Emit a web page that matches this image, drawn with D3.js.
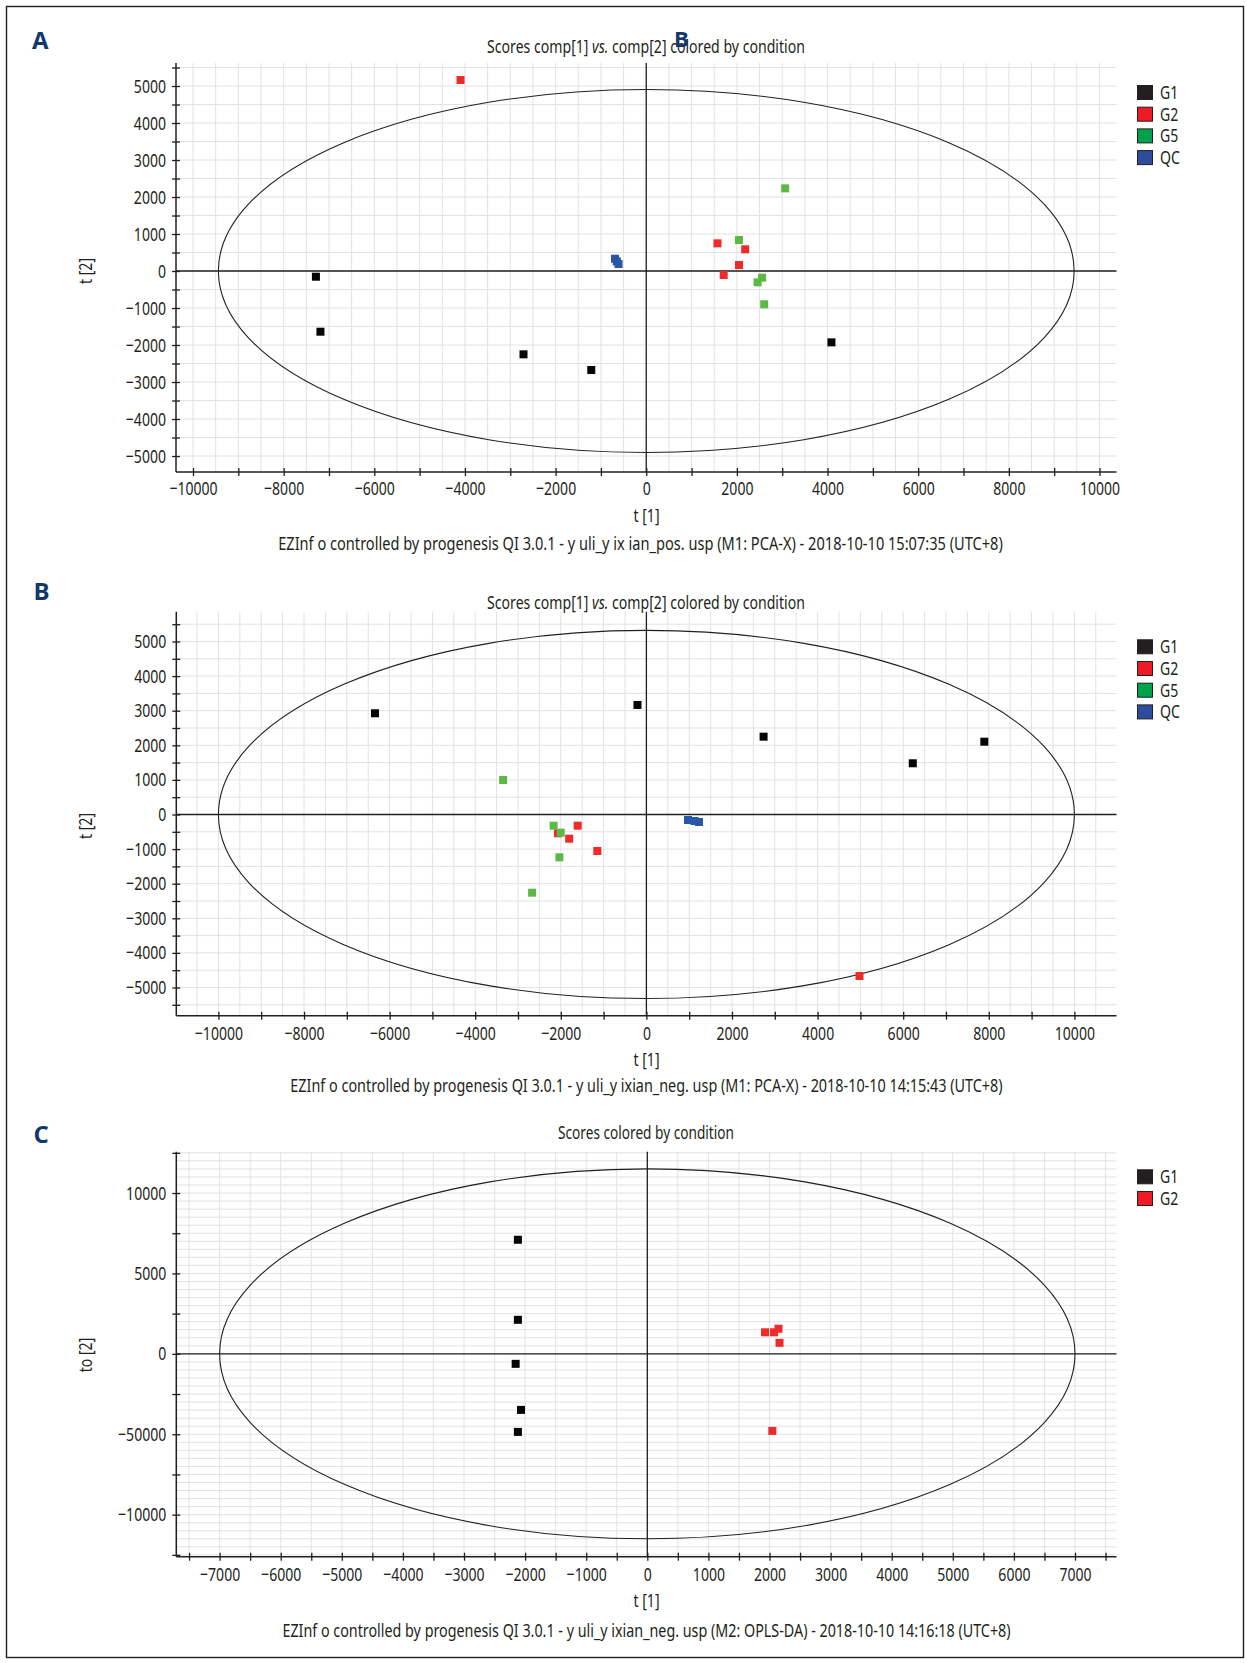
<!DOCTYPE html>
<html><head><meta charset="utf-8">
<script src="https://cdn.jsdelivr.net/npm/d3@7"></script>
<style>body{margin:0;background:#fff}</style>
</head><body><svg id="c" width="1247" height="1663"></svg>
<script>
// ---------------- DATA ----------------
const groupsABC = ["G1", "G2", "G5", "QC"];
const groupsC = ["G1", "G2"];

// Panel A (PCA-X, positive mode)  [t1, t2]
const aG1 = [[-7288, -154], [-7188, -1640], [-2708, -2252], [-1213, -2676], [4086, -1928]];
const aG2 = [[-4097, 5162], [1572, 748], [2183, 586], [2046, 162], [1709, -108]];
const aG5 = [[3065, 2234], [2046, 838], [2556, -181], [2456, -306], [2602, -900]];
const aQC = [[-690, 332], [-650, 260], [-611, 189]];
const aEllipse = [9440, 4905];

// Panel B (PCA-X, negative mode)
const bG1 = [[-6341, 2925], [-208, 3165], [2738, 2249], [6224, 1480], [7895, 2104]];
const bG2 = [[-2065, -543], [-1605, -324], [-1804, -699], [-1147, -1055], [4979, -4668]];
const bG5 = [[-3348, 997], [-2168, -324], [-2002, -526], [-2033, -1237], [-2670, -2260]];
const bQC = [[972, -159], [1124, -188], [1229, -217]];
const bEllipse = [10000, 5320];

// Panel C (OPLS-DA)  [t1, to2]
const cG1 = [[-2118, 7094], [-2118, 2116], [-2155, -622], [-2067, -3485], [-2118, -4854]];
const cG2 = [[1926, 1340], [2074, 1340], [2147, 1560], [2164, 685], [2046, -4791]];
const cEllipse = [7000, 11500];

// Tick labels
const xLabelsAB = [-10000, -8000, -6000, -4000, -2000, 0, 2000, 4000, 6000, 8000, 10000];
const yLabelsAB = [-5000, -4000, -3000, -2000, -1000, 0, 1000, 2000, 3000, 4000, 5000];
const xLabelsC = [-7000, -6000, -5000, -4000, -3000, -2000, -1000, 0, 1000, 2000, 3000, 4000, 5000, 6000, 7000];
const yLabelsC = [-10000, -5000, 0, 5000, 10000];
const yLabelTextC = ["\u221210000", "\u221250000", "0", "5000", "10000"];

const titles = [
  [{t: "Scores comp[1] "}, {t: "vs.", i: true}, {t: " comp[2] colored by condition"}],
  [{t: "Scores comp[1] "}, {t: "vs.", i: true}, {t: " comp[2] colored by condition"}],
  [{t: "Scores colored by condition"}]
];
const footers = [
  "EZInf o controlled by progenesis QI 3.0.1 - y uli_y ix ian_pos. usp (M1: PCA-X) - 2018-10-10 15:07:35 (UTC+8)",
  "EZInf o controlled by progenesis QI 3.0.1 - y uli_y ixian_neg. usp (M1: PCA-X) - 2018-10-10 14:15:43 (UTC+8)",
  "EZInf o controlled by progenesis QI 3.0.1 - y uli_y ixian_neg. usp (M2: OPLS-DA) - 2018-10-10 14:16:18 (UTC+8)"
];
const yTitles = ["t [2]", "t [2]", "to [2]"];
const xTitle = "t [1]";

// ---------------- STYLE ----------------
const INK = "#231f20";
const NAVY = "#12386b";
const FONT = "'Noto Sans', 'Open Sans', sans-serif";
const pointColor = {G1: "#050505", G2: "#ee2a2a", G5: "#5cb946", QC: "#2a56a8"};
const legendColor = {G1: "#231f20", G2: "#ed1c24", G5: "#00a14b", QC: "#2e4c9c"};
const COND = 0.74;

const svg = d3.select("#c");
svg.append("rect").attr("width", 1247).attr("height", 1663).attr("fill", "#fff");
svg.append("rect").attr("x", 6.5).attr("y", 6.5).attr("width", 1237).attr("height", 1651)
  .attr("fill", "none").attr("stroke", INK).attr("stroke-width", 1.4);

function txt(parent, x, y, opt) {
  const gg = parent.append("g");
  const t = gg.append("text").attr("font-family", opt.font || FONT).attr("font-size", opt.size || 19)
    .attr("fill", opt.fill || INK).attr("text-anchor", opt.anchor || "start");
  if (opt.weight) t.attr("font-weight", opt.weight);
  if (opt.parts) opt.parts.forEach(p => t.append("tspan").attr("font-style", p.i ? "italic" : null).text(p.t));
  else t.text(opt.s);
  let f = opt.f || COND;
  if (opt.width) f = opt.width / t.node().getBBox().width;
  gg.attr("transform", `translate(${x},${y})${opt.rot ? ` rotate(${opt.rot})` : ""} scale(${f},1)`);
  return t;
}
const fmt = v => v < 0 ? "\u2212" + Math.abs(v) : String(v);

const panels = [
  {label: "A", lab: [32, 49], x0: 176, x1: 1116.5, xDom: [-10375, 10375], yTop: 63, yBot: 472, yDom: [-5432, 5622],
   xMinor: 1000, yMinor: 500, xLab: xLabelsAB, yLab: yLabelsAB, yLabText: yLabelsAB.map(fmt), xPad: 6,
   series: [["G1", aG1], ["G2", aG2], ["G5", aG5], ["QC", aQC]], ell: aEllipse, legend: groupsABC,
   titleY: 53, titleW: 318, footY: 550, footX: 640.5, footW: 725, xtY: 521.5, ytY: 271, legTop: 85},
  {label: "B", lab: [33.5, 600], x0: 176.3, x1: 1116.5, xDom: [-10984, 10984], yTop: 611.7, yBot: 1015.7, yDom: [-5815, 5861],
   xMinor: 1000, yMinor: 500, xLab: xLabelsAB, yLab: yLabelsAB, yLabText: yLabelsAB.map(fmt), xPad: 7,
   series: [["G1", bG1], ["G2", bG2], ["G5", bG5], ["QC", bQC]], ell: bEllipse, legend: groupsABC,
   titleY: 609, titleW: 318, footY: 1092, footX: 646.5, footW: 713, xtY: 1066, ytY: 826, legTop: 639.3},
  {label: "C", lab: [33.5, 1143], x0: 176.3, x1: 1116.5, xDom: [-7709, 7679], yTop: 1151.7, yBot: 1556.7, yDom: [-12614, 12570],
   xMinor: 500, yMinor: 2500, xLab: xLabelsC, yLab: yLabelsC, yLabText: yLabelTextC, xPad: 7,
   series: [["G1", cG1], ["G2", cG2]], ell: cEllipse, legend: groupsC,
   titleY: 1139, titleW: 176, footY: 1637, footX: 646.5, footW: 729, xtY: 1607, ytY: 1355, legTop: 1169.3}
];

panels.forEach((p, pi) => {
  const g = svg.append("g");
  const x = d3.scaleLinear().domain(p.xDom).range([p.x0, p.x1]);
  const y = d3.scaleLinear().domain(p.yDom).range([p.yBot, p.yTop]);

  // grid every 500
  const gx = d3.range(Math.ceil(p.xDom[0] / 500) * 500, p.xDom[1] + 1, 500);
  const gy = d3.range(Math.ceil(p.yDom[0] / 500) * 500, p.yDom[1] + 1, 500);
  g.append("g").selectAll("line").data(gx).join("line")
    .attr("x1", d => x(d)).attr("x2", d => x(d)).attr("y1", p.yTop).attr("y2", p.yBot)
    .attr("stroke", "#e2e2e2").attr("stroke-width", 1);
  g.append("g").selectAll("line").data(gy).join("line")
    .attr("y1", d => y(d)).attr("y2", d => y(d)).attr("x1", p.x0).attr("x2", p.x1)
    .attr("stroke", "#e2e2e2").attr("stroke-width", 1);

  // zero lines
  g.append("line").attr("x1", x(0)).attr("x2", x(0)).attr("y1", p.yTop).attr("y2", p.yBot)
    .attr("stroke", INK).attr("stroke-width", 1.3);
  g.append("line").attr("x1", p.x0).attr("x2", p.x1).attr("y1", y(0)).attr("y2", y(0))
    .attr("stroke", INK).attr("stroke-width", 1.3);

  // ellipse
  g.append("ellipse").attr("cx", x(0)).attr("cy", y(0))
    .attr("rx", x(p.ell[0]) - x(0)).attr("ry", y(0) - y(p.ell[1]))
    .attr("fill", "none").attr("stroke", INK).attr("stroke-width", 1.1);

  // axes
  const yLabMap = new Map(p.yLab.map((v, i) => [v, p.yLabText[i]]));
  const xLabMap = new Map(p.xLab.map(v => [v, fmt(v)]));
  const yt = d3.range(Math.ceil(p.yDom[0] / p.yMinor) * p.yMinor, p.yDom[1] + 1, p.yMinor);
  const xt = d3.range(Math.ceil(p.xDom[0] / p.xMinor) * p.xMinor, p.xDom[1] + 1, p.xMinor);
  const ya = g.append("g").attr("transform", `translate(${p.x0},0)`)
    .call(d3.axisLeft(y).tickValues(yt).tickSize(4).tickPadding(6).tickFormat(v => yLabMap.get(v) || ""));
  const xa = g.append("g").attr("transform", `translate(0,${p.yBot})`)
    .call(d3.axisBottom(x).tickValues(xt).tickSize(4).tickPadding(p.xPad).tickFormat(v => xLabMap.get(v) || ""));
  [ya, xa].forEach(a => {
    a.select(".domain").remove();
    a.selectAll("line").attr("stroke", INK).attr("stroke-width", 1.3);
    a.selectAll("text").attr("font-family", FONT).attr("font-size", 19).attr("fill", INK);
  });
  ya.selectAll(".tick line").attr("x1", 4);
  xa.selectAll(".tick line").attr("y1", -4);
  ya.selectAll(".tick text").attr("x", -10 / COND).attr("transform", `scale(${COND},1)`);
  xa.selectAll(".tick text").attr("transform", `scale(${COND},1)`);
  g.append("line").attr("x1", p.x0).attr("x2", p.x0).attr("y1", p.yTop).attr("y2", p.yBot)
    .attr("stroke", INK).attr("stroke-width", 1.5);
  g.append("line").attr("x1", p.x0).attr("x2", p.x1).attr("y1", p.yBot).attr("y2", p.yBot)
    .attr("stroke", INK).attr("stroke-width", 1.5);

  // points
  p.series.forEach(([name, pts]) => {
    g.append("g").selectAll("rect").data(pts).join("rect")
      .attr("x", d => x(d[0]) - 4).attr("y", d => y(d[1]) - 4)
      .attr("width", 8).attr("height", 8).attr("fill", pointColor[name]);
  });

  // legend
  const lg = g.append("g");
  p.legend.forEach((name, i) => {
    const top = p.legTop + i * 21.7;
    lg.append("rect").attr("x", 1137.5).attr("y", top + 0.5).attr("width", 15).attr("height", 14)
      .attr("fill", legendColor[name]).attr("stroke", INK).attr("stroke-width", 1);
    txt(lg, 1160, top + 14, {s: name, size: 18, f: 0.78});
  });

  // texts
  txt(g, p.lab[0], p.lab[1], {s: p.label, size: 24, weight: 700, fill: NAVY, f: 1, font: "'Open Sans', sans-serif"});
  txt(g, 646, p.titleY, {parts: titles[pi], anchor: "middle", width: p.titleW});
  txt(g, p.footX, p.footY, {s: footers[pi], anchor: "middle", width: p.footW, size: 18});
  txt(g, 646.5, p.xtY, {s: xTitle, anchor: "middle"});
  txt(g, 92, p.ytY, {s: yTitles[pi], anchor: "middle", rot: -90});
});

// stray overlapping "B" near the first title (as in the source figure)
txt(svg, 674, 47, {s: "B", size: 22, weight: 700, fill: NAVY, f: 1, font: "'Open Sans', sans-serif"});
</script>
</body></html>
